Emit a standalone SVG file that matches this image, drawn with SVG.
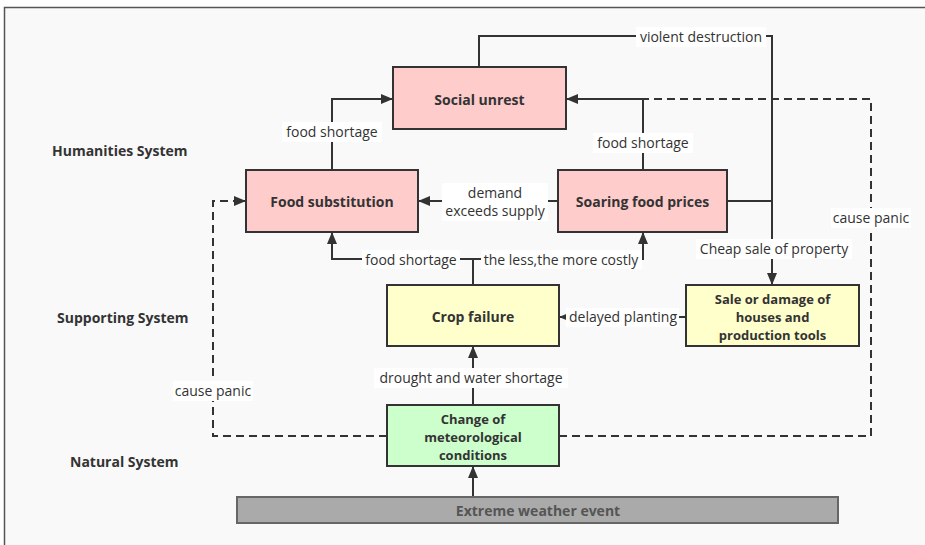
<svg xmlns="http://www.w3.org/2000/svg" width="925" height="545" viewBox="0 0 925 545">
<defs>
<marker id="ah" viewBox="0 0 12 10" refX="12" refY="5" markerWidth="12" markerHeight="10" markerUnits="userSpaceOnUse" orient="auto">
<path d="M0,0 L12,5 L0,10 Z" fill="#333"/>
</marker>
</defs>
<style>
.node{stroke:#333;stroke-width:2}
.red{fill:#ffcccc}
.yel{fill:#ffffcc}
.grn{fill:#ccffcc}
.nt{font-family:"Open Sans","Noto Sans",sans-serif;font-size:14px;font-weight:bold;fill:#333;text-anchor:middle}
.nt3{font-family:"Open Sans","Noto Sans",sans-serif;font-size:13px;font-weight:bold;fill:#333;text-anchor:middle}
.sys{font-family:"Open Sans","Noto Sans",sans-serif;font-size:14px;font-weight:bold;fill:#333}
.lbl{font-family:"Open Sans","Noto Sans",sans-serif;font-size:14px;fill:#333;text-anchor:middle}
.lb{fill:#ffffff}
.c{fill:none;stroke:#333;stroke-width:2}
.d{fill:none;stroke:#333;stroke-width:2;stroke-dasharray:8 5}
</style>
<rect x="0" y="0" width="925" height="545" fill="#ffffff"/>
<rect x="4.5" y="7.5" width="930" height="545" fill="#f9f9f9" stroke="#555" stroke-width="1.5"/>

<text class="sys" x="52" y="156">Humanities System</text>
<text class="sys" x="57" y="323">Supporting System</text>
<text class="sys" x="70" y="467">Natural System</text>

<g id="connectors">
<path class="c" d="M332,170 V99 H393" marker-end="url(#ah)"/>
<path class="c" d="M643,170 V99 H566" marker-end="url(#ah)"/>
<path class="c" d="M558,201 H418" marker-end="url(#ah)"/>
<path class="c" d="M473,285 V259 H332 V232" marker-end="url(#ah)"/>
<path class="c" d="M473,259 H643 V232" marker-end="url(#ah)"/>
<path class="c" d="M479,67 V36 H772 V285" marker-end="url(#ah)"/>
<path class="c" d="M727,201 H772"/>
<path class="c" d="M686,317 H559" marker-end="url(#ah)"/>
<path class="c" d="M473,405 V346" marker-end="url(#ah)"/>
<path class="c" d="M473,497 V466" marker-end="url(#ah)"/>
<path class="d" d="M387,436 H213 V201 H234"/>
<path class="c" d="M234,201 H246" marker-end="url(#ah)"/>
<path class="d" d="M559,436 H871 V99 H643"/>

<rect class="lb" x="282" y="122" width="100" height="20"/>
<text class="lbl" x="332" y="137">food shortage</text>
<rect class="lb" x="593" y="133" width="100" height="20"/>
<text class="lbl" x="643" y="148">food shortage</text>
<rect class="lb" x="442" y="183" width="106" height="38"/>
<text class="lbl" x="495" y="198">demand</text>
<text class="lbl" x="495" y="216">exceeds supply</text>
<rect class="lb" x="362" y="250" width="98" height="19"/>
<text class="lbl" x="411" y="265">food shortage</text>
<rect class="lb" x="481" y="250" width="161" height="19"/>
<text class="lbl" x="561" y="265">the less,the more costly</text>
<rect class="lb" x="636" y="27" width="130" height="20"/>
<text class="lbl" x="701" y="42">violent destruction</text>
<rect class="lb" x="696" y="239" width="156" height="20"/>
<text class="lbl" x="774" y="254">Cheap sale of property</text>
<rect class="lb" x="566" y="308" width="113" height="19"/>
<text class="lbl" x="623" y="322">delayed planting</text>
<rect class="lb" x="374" y="368" width="194" height="20"/>
<text class="lbl" x="471" y="383">drought and water shortage</text>
<rect class="lb" x="173" y="381" width="80" height="20"/>
<text class="lbl" x="213" y="396">cause panic</text>
<rect class="lb" x="831" y="208" width="80" height="20"/>
<text class="lbl" x="871" y="223">cause panic</text>
</g>

<g id="social-unrest">
<rect class="node red" x="393" y="67" width="173" height="62"/>
<text class="nt" x="479.5" y="105">Social unrest</text>
</g>
<g id="food-substitution">
<rect class="node red" x="246" y="170" width="172" height="62"/>
<text class="nt" x="332" y="207">Food substitution</text>
</g>
<g id="soaring-food-prices">
<rect class="node red" x="558" y="170" width="169" height="62"/>
<text class="nt" x="642.5" y="207">Soaring food prices</text>
</g>
<g id="crop-failure">
<rect class="node yel" x="387" y="285" width="172" height="61"/>
<text class="nt" x="473" y="322">Crop failure</text>
</g>
<g id="sale-damage">
<rect class="node yel" x="686" y="285" width="173" height="61"/>
<text class="nt3" x="772.5" y="304">Sale or damage of</text>
<text class="nt3" x="772.5" y="322">houses and</text>
<text class="nt3" x="772.5" y="340">production tools</text>
</g>
<g id="change-meteorological">
<rect class="node grn" x="387" y="405" width="172" height="61"/>
<text class="nt3" x="473" y="424">Change of</text>
<text class="nt3" x="473" y="442">meteorological</text>
<text class="nt3" x="473" y="460">conditions</text>
</g>
<g id="extreme-weather">
<rect x="237" y="497" width="601" height="26" fill="#aaaaaa" stroke="#666" stroke-width="2"/>
<text class="nt" x="538" y="516" style="fill:#555">Extreme weather event</text>
</g>
</svg>
